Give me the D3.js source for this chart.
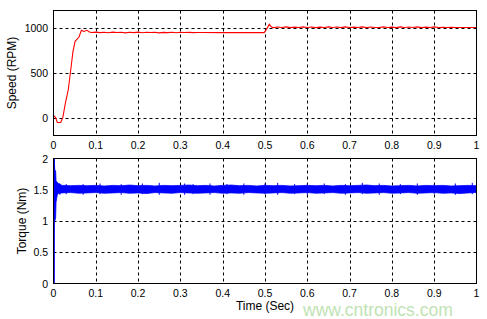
<!DOCTYPE html>
<html>
<head>
<meta charset="utf-8">
<script src="https://cdn.jsdelivr.net/npm/d3@7"></script>
<style>
  body { margin: 0; background: #fff; }
  text { font-family: "Liberation Sans", Arial, sans-serif; }
</style>
</head>
<body>
<div id="chart"></div>
<script>
// time axis ticks (shared)
var timeTicks = [0, 0.1, 0.2, 0.3, 0.4, 0.5, 0.6, 0.7, 0.8, 0.9, 1]
var speedTicks = [0, 500, 1000]
var torqueTicks = [0, 0.5, 1, 1.5, 2]

// speed response (RPM)
var speedTime = [0, 0.005, 0.009, 0.017, 0.022, 0.028, 0.035, 0.041, 0.046, 0.051, 0.06, 0.066, 0.072, 0.079, 0.085, 0.09,
  0.10, 0.11, 0.12, 0.13, 0.14, 0.15, 0.16, 0.17, 0.18, 0.19, 0.20, 0.21, 0.22, 0.23, 0.24, 0.25, 0.26, 0.27, 0.28, 0.29, 0.30, 0.31, 0.32, 0.33, 0.34, 0.35,
  0.40, 0.45, 0.498, 0.505, 0.51, 0.515, 0.52,
  0.53, 0.54, 0.55, 0.56, 0.57, 0.58, 0.59, 0.60, 0.61, 0.62, 0.63, 0.64, 0.65, 0.66, 0.67, 0.68, 0.69, 0.70, 0.71, 0.72, 0.73, 0.74, 0.75, 0.76,
  0.77, 0.78, 0.79, 0.80, 0.81, 0.82, 0.83, 0.84, 0.85, 0.86, 0.87, 0.88, 0.89, 0.90, 0.91, 0.92, 0.93, 0.94, 0.95, 1.0]
var speedRpm = [25, 0, -55, -55, 0, 160, 315, 545, 740, 855, 900, 978, 965, 978, 960, 953,
  958, 952, 957, 951, 958, 953, 956, 950, 957, 952, 958, 951, 956, 953, 957, 950, 955, 952, 957, 951, 956, 953, 955, 952, 954, 953,
  952, 952, 952, 1000, 1045, 1016, 1008,
  1015, 1009, 1016, 1008, 1014, 1010, 1016, 1009, 1015, 1008, 1014, 1010, 1016, 1009, 1015, 1008, 1016, 1010, 1014, 1009, 1016, 1008, 1015, 1009,
  1010, 1016, 1009, 1014, 1008, 1016, 1010, 1015, 1009, 1016, 1008, 1014, 1010, 1016, 1009, 1012, 1010, 1011, 1010, 1010]

// torque envelope (Nm): the signal is a dense ripple, so keep its upper and lower bounds
var torqueTime = [0, 0.0008, 0.0015, 0.003, 0.005, 0.006, 0.009, 0.012,
  0.02, 0.04, 0.06, 0.08, 0.10, 0.12, 0.14, 0.16, 0.18, 0.20, 0.22, 0.24, 0.26, 0.28, 0.30, 0.32, 0.34, 0.36, 0.38, 0.40,
  0.42, 0.44, 0.46, 0.48, 0.50, 0.52, 0.54, 0.56, 0.58, 0.60, 0.62, 0.64, 0.66, 0.68, 0.70, 0.72, 0.74, 0.76, 0.78, 0.80,
  0.82, 0.84, 0.86, 0.88, 0.90, 0.92, 0.94, 0.96, 0.98, 1.0]
var torqueHi = [0, 2.0, 2.0, 1.82, 1.8, 1.64, 1.62, 1.6,
  1.57, 1.565, 1.57, 1.565, 1.57, 1.56, 1.57, 1.565, 1.575, 1.565, 1.57, 1.56, 1.57, 1.565, 1.57, 1.575, 1.565, 1.57, 1.56, 1.57,
  1.575, 1.565, 1.57, 1.56, 1.57, 1.565, 1.57, 1.56, 1.565, 1.57, 1.565, 1.57, 1.56, 1.57, 1.565, 1.57, 1.575, 1.565, 1.57, 1.56,
  1.565, 1.57, 1.56, 1.57, 1.565, 1.57, 1.56, 1.565, 1.57, 1.565]
var torqueLo = [0, 0, 1.0, 1.0, 1.05, 1.3, 1.42, 1.44,
  1.45, 1.455, 1.445, 1.45, 1.455, 1.445, 1.45, 1.455, 1.445, 1.45, 1.44, 1.455, 1.45, 1.445, 1.455, 1.45, 1.445, 1.45, 1.455, 1.445,
  1.45, 1.445, 1.455, 1.45, 1.445, 1.45, 1.455, 1.445, 1.45, 1.455, 1.445, 1.45, 1.455, 1.445, 1.45, 1.455, 1.445, 1.45, 1.455, 1.445,
  1.45, 1.455, 1.445, 1.45, 1.455, 1.445, 1.45, 1.44, 1.45, 1.455]
// occasional ripple spikes beyond the band
var spikeTime = [0.015, 0.03, 0.07, 0.11, 0.16, 0.21, 0.25, 0.31, 0.33, 0.37, 0.41, 0.45, 0.5, 0.53, 0.57, 0.6, 0.64, 0.69, 0.73, 0.77, 0.82, 0.86, 0.9, 0.95, 0.99]
var spikeHi = [1.6, 1.59, 1.59, 1.6, 1.59, 1.6, 1.61, 1.6, 1.59, 1.6, 1.59, 1.6, 1.6, 1.61, 1.59, 1.6, 1.6, 1.59, 1.61, 1.6, 1.59, 1.6, 1.59, 1.6, 1.61]
var spikeLo = [1.42, 1.43, 1.42, 1.43, 1.42, 1.43, 1.42, 1.42, 1.43, 1.42, 1.43, 1.42, 1.43, 1.42, 1.43, 1.42, 1.43, 1.42, 1.43, 1.42, 1.43, 1.42, 1.43, 1.42, 1.43]

var width = 487,
  height = 319

var svg = d3.select("#chart").append("svg")
  .attr("width", width)
  .attr("height", height)

var x = d3.scaleLinear().domain([0, 1]).range([53.5, 476.5])
var ySpeed = d3.scaleLinear().domain([-200, 1200]).range([135.5, 10.5])
var yTorque = d3.scaleLinear().domain([0, 2]).range([283.5, 158.5])

// watermark sits under everything
svg.append("text")
  .attr("x", 303)
  .attr("y", 315.5)
  .attr("font-size", 17.5)
  .attr("fill", "#bfe3b4")
  .text("www.cntronics.com")

function panel(y, yTicks, label, labelX) {
  var top = y.range()[1], bottom = y.range()[0]
  var g = svg.append("g")

  g.append("rect")
    .attr("x", x.range()[0]).attr("y", top)
    .attr("width", x.range()[1] - x.range()[0])
    .attr("height", bottom - top)
    .attr("fill", "#fff")

  // dashed grid
  g.selectAll(".vgrid")
    .data(timeTicks.filter(function(d) { return d > 0 && d < 1 }))
    .enter().append("line")
    .attr("x1", function(d) { return Math.round(x(d)) + 0.5 })
    .attr("x2", function(d) { return Math.round(x(d)) + 0.5 })
    .attr("y1", top).attr("y2", bottom)
    .attr("stroke", "#000").attr("stroke-dasharray", "3,3")

  g.selectAll(".hgrid")
    .data(yTicks.filter(function(d) { return y(d) < bottom - 1 && y(d) > top + 1 }))
    .enter().append("line")
    .attr("x1", x.range()[0]).attr("x2", x.range()[1])
    .attr("y1", function(d) { return Math.round(y(d)) + 0.5 })
    .attr("y2", function(d) { return Math.round(y(d)) + 0.5 })
    .attr("stroke", "#000").attr("stroke-dasharray", "3,3")

  // tick labels
  g.selectAll(".xlab")
    .data(timeTicks)
    .enter().append("text")
    .attr("x", function(d) { return x(d) })
    .attr("y", bottom + 13)
    .attr("text-anchor", "middle")
    .attr("font-size", 10.5)
    .text(function(d) { return d })

  g.selectAll(".ylab")
    .data(yTicks)
    .enter().append("text")
    .attr("x", x.range()[0] - 5.5)
    .attr("y", function(d) { return y(d) + 4 })
    .attr("text-anchor", "end")
    .attr("font-size", 10.5)
    .text(function(d) { return d })

  g.append("text")
    .attr("transform", "translate(" + labelX + "," + ((top + bottom) / 2) + ") rotate(-90)")
    .attr("text-anchor", "middle")
    .attr("font-size", 12)
    .text(label)

  return g
}

var gSpeed = panel(ySpeed, speedTicks, "Speed (RPM)", 16)
var gTorque = panel(yTorque, torqueTicks, "Torque (Nm)", 26)

var speedLine = d3.line()
  .x(function(d, i) { return x(speedTime[i]) })
  .y(function(d) { return ySpeed(d) })

gSpeed.append("path")
  .datum(speedRpm)
  .attr("d", speedLine)
  .attr("fill", "none")
  .attr("stroke", "#ff0000")
  .attr("stroke-width", 1.1)

var torqueArea = d3.area()
  .x(function(d, i) { return x(torqueTime[i]) })
  .y0(function(d, i) { return yTorque(torqueLo[i]) })
  .y1(function(d) { return yTorque(d) })

gTorque.append("path")
  .datum(torqueHi)
  .attr("d", torqueArea)
  .attr("fill", "#0000ff")
  .attr("stroke", "#0000ff")
  .attr("stroke-width", 0.8)

gTorque.selectAll(".spike")
  .data(spikeTime)
  .enter().append("line")
  .attr("x1", function(d) { return x(d) })
  .attr("x2", function(d) { return x(d) })
  .attr("y1", function(d, i) { return yTorque(spikeLo[i]) })
  .attr("y2", function(d, i) { return yTorque(spikeHi[i]) })
  .attr("stroke", "#0000ff")
  .attr("stroke-width", 1)

// start-up jump at t = 0
gTorque.append("line")
  .attr("x1", x(0) + 0.5).attr("x2", x(0) + 0.5)
  .attr("y1", yTorque(0)).attr("y2", yTorque(2))
  .attr("stroke", "#0000ff").attr("stroke-width", 1.5)

// frames on top
;[ySpeed, yTorque].forEach(function(y) {
  svg.append("rect")
    .attr("x", x.range()[0]).attr("y", y.range()[1])
    .attr("width", x.range()[1] - x.range()[0])
    .attr("height", y.range()[0] - y.range()[1])
    .attr("fill", "none")
    .attr("stroke", "#000")
})

svg.append("text")
  .attr("x", (x.range()[0] + x.range()[1]) / 2)
  .attr("y", 310)
  .attr("text-anchor", "middle")
  .attr("font-size", 12)
  .text("Time (Sec)")
</script>
</body>
</html>
